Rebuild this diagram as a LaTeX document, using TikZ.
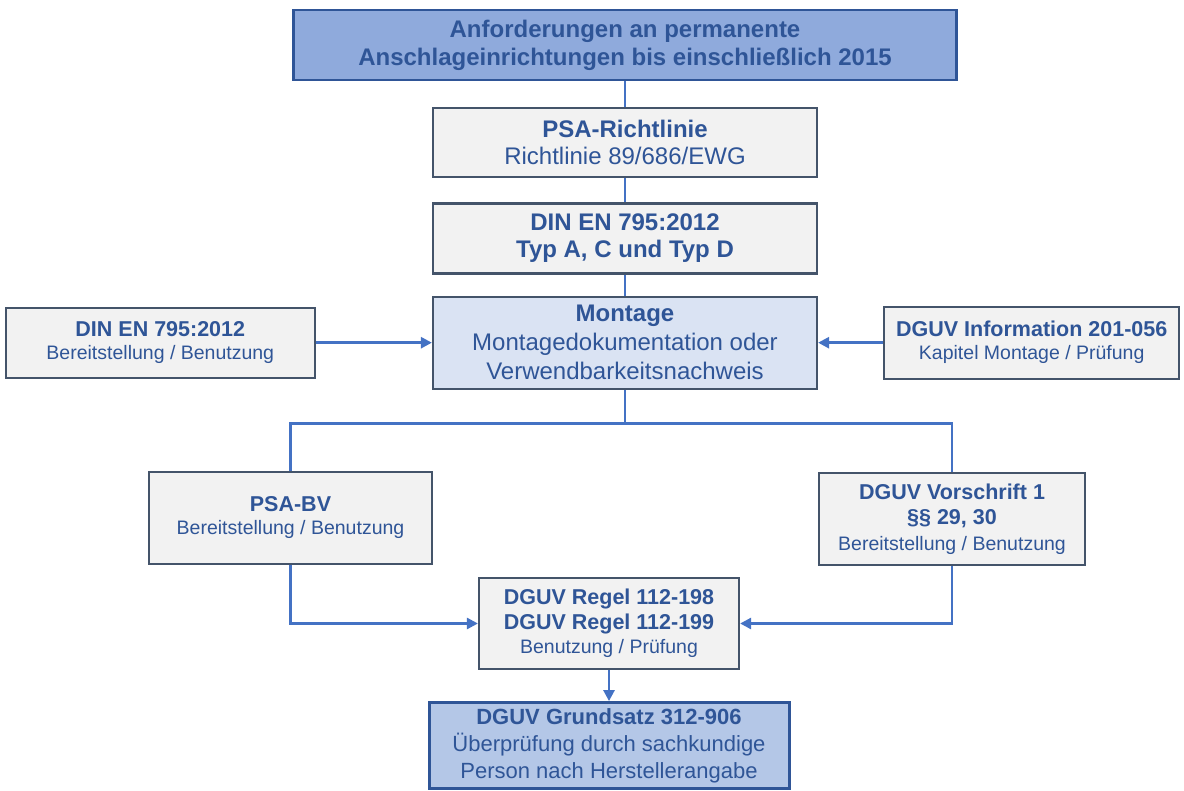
\documentclass[tikz,border=0pt]{standalone}
\usepackage{fontspec}
\setmainfont{Liberation Sans}
\usetikzlibrary{arrows.meta,positioning}
\definecolor{dgblue}{RGB}{47,85,151}
\definecolor{dglink}{RGB}{68,114,196}
\definecolor{dgslate}{RGB}{68,84,106}
\definecolor{dgtop}{RGB}{143,170,220}
\definecolor{dgmont}{RGB}{218,227,243}
\definecolor{dgbottom}{RGB}{180,199,231}
\definecolor{dggray}{RGB}{242,242,242}
\newcommand{\sidehead}[1]{{\fontsize{21.5}{25}\selectfont\bfseries #1}}
\tikzstyle{headbox} = [rectangle, minimum width=663pt, minimum height=70pt, inner sep=0pt, align=center, draw=dgblue, fill=dgtop, line width=2.4pt, text=dgblue, font=\fontsize{24}{28}\selectfont\bfseries]
\tikzstyle{normbox} = [rectangle, minimum width=384pt, minimum height=69pt, inner sep=0pt, align=center, draw=dgslate, fill=dggray, line width=2.2pt, text=dgblue, font=\fontsize{24}{27}\selectfont]
\tikzstyle{sidebox} = [normbox, font=\fontsize{19.5}{23}\selectfont]
\tikzstyle{link} = [line width=2.6pt, color=dglink]
\tikzstyle{arrow} = [link, -{Triangle[length=11pt,width=11pt]}]
\begin{document}
\begin{tikzpicture}[x=1pt, y=-1pt, node distance=27pt]
\useasboundingbox (0,0) rectangle (1184,791);
% main column
\node (req) [headbox] at (625,45) {Anforderungen an permanente\\Anschlageinrichtungen bis einschließlich 2015};
\node (psa) [normbox, below=26pt of req] {\textbf{PSA-Richtlinie}\\Richtlinie 89/686/EWG};
\node (din) [normbox, below=24pt of psa, minimum height=70pt, font=\fontsize{24}{27}\selectfont\bfseries] {DIN EN 795:2012\\Typ A, C und Typ D};
\node (mont) [normbox, below=21pt of din, minimum height=92pt, fill=dgmont, font=\fontsize{24}{29}\selectfont] {\textbf{Montage}\\Montagedokumentation oder\\Verwendbarkeitsnachweis};

% side inputs
\node (dinuse) [sidebox, left=116pt of mont, minimum width=309pt, minimum height=70pt] {\sidehead{DIN EN 795:2012}\\Bereitstellung / Benutzung};
\node (info) [sidebox, right=65pt of mont, minimum width=295pt, minimum height=72pt] {\sidehead{DGUV Information 201-056}\\Kapitel Montage / Prüfung};

% lower part
\node (psabv) [sidebox, minimum width=283pt, minimum height=92pt] at (290.5,518) {\sidehead{PSA-BV}\\Bereitstellung / Benutzung};
\node (vorschrift) [sidebox, minimum width=266pt, minimum height=92pt, font=\fontsize{19.5}{25.5}\selectfont] at (952,519) {\sidehead{DGUV Vorschrift 1}\\\sidehead{§§ 29, 30}\\Bereitstellung / Benutzung};
\node (regel) [sidebox, minimum width=260pt, minimum height=91pt, font=\fontsize{19.5}{24.5}\selectfont] at (609,623.5) {\sidehead{DGUV Regel 112-198}\\\sidehead{DGUV Regel 112-199}\\Benutzung / Prüfung};
\node (grund) [normbox, below=31pt of regel, minimum width=360pt, minimum height=86pt, draw=dgblue, fill=dgbottom, line width=3pt, font=\fontsize{22}{27}\selectfont] {\textbf{DGUV Grundsatz 312-906}\\Überprüfung durch sachkundige\\Person nach Herstellerangabe};

% connectors
\draw[link] (req) -- (psa);
\draw[link] (psa) -- (din);
\draw[link] (din) -- (mont);
\draw[arrow] (dinuse.east) -- (dinuse.east -| mont.west);
\draw[arrow] (info.west) -- (info.west -| mont.east);
\coordinate (split) at ([yshift=-34pt]mont.south);
\draw[link] (mont) -- (split);
\draw[link] (psabv.north) |- (split) -| (vorschrift.north);
\draw[arrow] (psabv.south) |- (regel.west);
\draw[arrow] (vorschrift.south) |- (regel.east);
\draw[arrow] (regel) -- (grund);
\end{tikzpicture}
\end{document}
